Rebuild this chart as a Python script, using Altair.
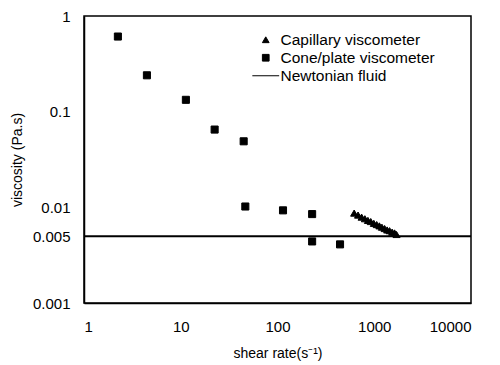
import altair as alt
import pandas as pd

# Cone/plate viscometer
cone_x = [2.24, 4.47, 11.3, 22.4, 44.7, 46.5, 114, 228, 228, 443]
cone_y = [0.61, 0.24, 0.133, 0.065, 0.049, 0.0102, 0.0093, 0.0085, 0.0044, 0.0041]

# Capillary viscometer
cap_x = [620, 680, 740, 800, 860, 920, 990, 1060, 1130, 1200, 1280, 1360, 1440, 1530, 1620, 1700]
cap_y = [0.0087, 0.0083, 0.0079, 0.0076, 0.0073, 0.0071, 0.0068, 0.0066, 0.0064,
         0.0062, 0.0060, 0.0058, 0.0057, 0.0055, 0.0054, 0.0052]

newtonian = 0.005

series_names = ["Capillary viscometer", "Cone/plate viscometer", "Newtonian fluid"]
x_ticks = [1, 10, 100, 1000, 10000]
y_ticks = [0.001, 0.005, 0.01, 0.1, 1]

pts = pd.DataFrame({
    "x": cap_x + cone_x,
    "y": cap_y + cone_y,
    "series": [series_names[0]] * len(cap_x) + [series_names[1]] * len(cone_x),
})
line_df = pd.DataFrame({"y": [newtonian], "series": [series_names[2]]})

FONT = "Liberation Sans"

xscale = alt.Scale(type="log", domain=[1, 10000], nice=False)
yscale = alt.Scale(type="log", domain=[0.001, 1], nice=False)

points = alt.Chart(pts).mark_point(filled=True, fill="black", stroke="black",
                                   strokeWidth=1, opacity=1, size=50).encode(
    x=alt.X("x:Q", scale=xscale, title="shear rate(s⁻¹)",
            axis=alt.Axis(values=x_ticks, format="d", grid=False, tickSize=0,
                          labelPadding=16, titlePadding=12)),
    y=alt.Y("y:Q", scale=yscale, title="viscosity (Pa.s)",
            axis=alt.Axis(values=y_ticks, format="~g", grid=False, tickSize=0,
                          labelPadding=14, titlePadding=8)),
    shape=alt.Shape("series:N", scale=alt.Scale(domain=series_names,
                                                 range=["triangle-up", "square", "M-4,0L4,0"]),
                    legend=alt.Legend(title=None, orient="none", legendX=174, legendY=16,
                                      symbolSize=45, labelOffset=7, rowPadding=1)),
)

rule = alt.Chart(line_df).mark_rule(color="black", strokeWidth=2).encode(
    y=alt.Y("y:Q", scale=yscale)
)

chart = alt.layer(rule, points).properties(
    width=387, height=287,
    autosize=alt.AutoSizeParams(type="none"),
    padding={"left": 76, "top": 8, "right": 20, "bottom": 60},
).configure_view(stroke="black", strokeWidth=1.5).configure_axis(
    domainColor="black", domainWidth=1.5,
    labelFont=FONT, labelFontSize=15, labelColor="black",
    titleFont=FONT, titleFontSize=14, titleColor="black", titleFontWeight="normal",
).configure_legend(
    labelFont=FONT, labelFontSize=15.5, labelColor="black",
    symbolStrokeWidth=1,
)

chart.save("out.html", embed_options={"renderer": "svg", "actions": False})
